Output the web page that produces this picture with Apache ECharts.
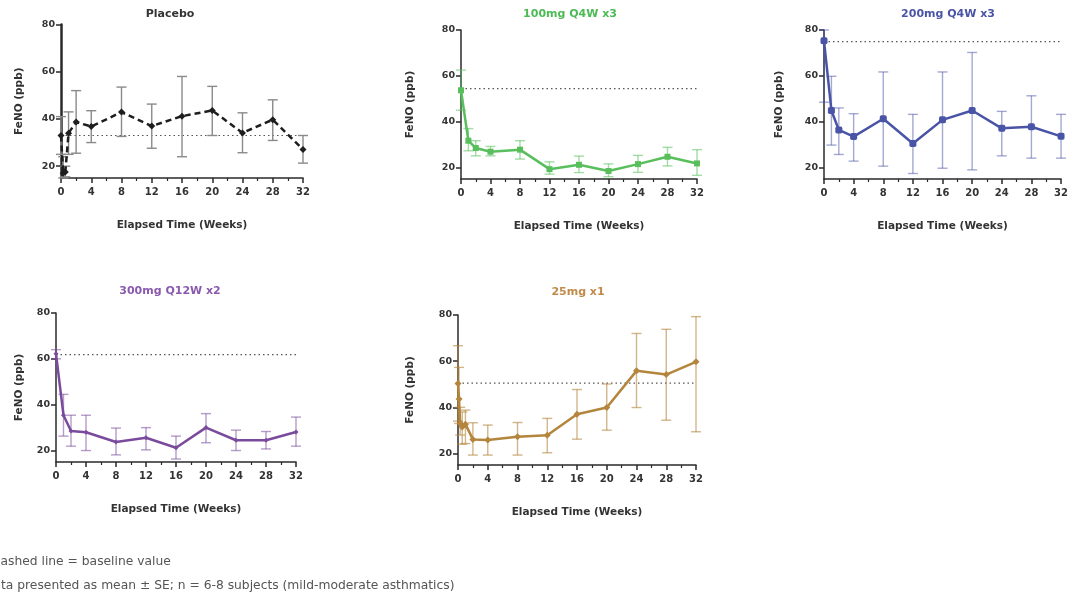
<!DOCTYPE html>
<html>
<head>
<meta charset="utf-8">
<script src="https://cdn.jsdelivr.net/npm/echarts@6/dist/echarts.min.js"></script>
<style>
  html, body { margin: 0; padding: 0; background: #ffffff; }
  #chart { width: 1071px; height: 600px; }
</style>
</head>
<body>
<div id="chart"></div>
<script>
// ---------- DATA ----------
const xTickLabels = [0, 4, 8, 12, 16, 20, 24, 28, 32];
const yTickLabels = [20, 40, 60, 80];

const placeboWeeks = [0, 0.29, 0.57, 1, 2, 4, 8, 12, 16, 20, 24, 28, 32];
const placeboMean  = [33, 17, 17.5, 34, 38.7, 36.8, 42.9, 37, 41.2, 43.6, 34.1, 39.7, 27.1];
const placeboLow   = [25, 15, 15.5, 25, 25.5, 30, 32.6, 27.6, 24, 33, 25.7, 30.9, 21.3];
const placeboHigh  = [41, 24, 20, 43, 52, 43.5, 53.5, 46.3, 58, 53.8, 42.6, 48.1, 33];
const placeboBaseline = 33;

const q4w100Weeks = [0, 1, 2, 4, 8, 12, 16, 20, 24, 28, 32];
const q4w100Mean  = [53.7, 31.7, 28.5, 26.9, 27.8, 19.3, 21.2, 18.5, 21.5, 24.7, 21.8];
const q4w100Low   = [45, 27.3, 25.1, 25.1, 23.7, 17.1, 17.8, 16, 17.9, 20.7, 16.6];
const q4w100High  = [62.5, 37, 31.7, 29.2, 31.7, 22.5, 25, 21.6, 25.3, 28.8, 27.8];
const q4w100Baseline = 54.4;

const q4w200Weeks = [0, 1, 2, 4, 8, 12, 16, 20, 24, 28, 32];
const q4w200Mean  = [75.3, 44.9, 36.4, 33.5, 41.3, 30.5, 40.8, 44.9, 37.1, 37.8, 33.6];
const q4w200Low   = [48.5, 29.8, 25.7, 22.8, 20.6, 17.4, 19.7, 19, 25.1, 24.1, 24.1];
const q4w200High  = [80, 59.8, 46, 43.5, 61.7, 43.2, 61.7, 70.2, 44.5, 51.3, 43.2];
const q4w200Baseline = 74.9;

const q12w300Weeks = [0, 1, 2, 4, 8, 12, 16, 20, 24, 28, 32];
const q12w300Mean  = [62.2, 35.4, 28.5, 28, 23.7, 25.6, 21.2, 30, 24.5, 24.5, 28.1];
const q12w300Low   = [60, 26.3, 21.9, 20, 18.1, 20.3, 16.3, 23.4, 20, 20.7, 21.9];
const q12w300High  = [64, 44.5, 35.4, 35.4, 29.8, 30, 26.3, 36.1, 28.9, 28.3, 34.6];
const q12w300Baseline = 61.8;

const x1Weeks = [0, 0.14, 0.29, 0.57, 1, 2, 4, 8, 12, 16, 20, 24, 28, 32];
const x1Mean  = [50.3, 43.6, 33, 31.5, 32.7, 26.1, 25.8, 27.2, 27.9, 37, 39.9, 55.8, 54.2, 59.7];
const x1Low   = [34, 33, 28, 24, 24.3, 19.3, 19.3, 19.3, 20.3, 26.2, 30.1, 39.9, 34.4, 29.4];
const x1High  = [66.7, 57.3, 40, 38, 38.8, 33.3, 32.3, 33.4, 35.2, 47.7, 50.1, 72, 73.8, 79.3];
const x1Baseline = 50.5;

const panelTitles = ['Placebo', '100mg Q4W x3', '200mg Q4W x3', '300mg Q12W x2', '25mg x1'];
const xAxisTitle = 'Elapsed Time (Weeks)';
const yAxisTitle = 'FeNO (ppb)';
const footnotes = ['Dashed line = baseline value',
  'Data presented as mean \u00b1 SE; n = 6-8 subjects (mild-moderate asthmatics)'];

// ---------- LAYOUT / STYLE ----------
const panels = [
  { weeks: placeboWeeks, mean: placeboMean, low: placeboLow, high: placeboHigh, base: placeboBaseline,
    color: '#1e1e1e', bar: '#8a8a8a', titleColor: '#333333', symbol: 'diamond', symbolSize: 7, dashed: true,
    grid: { left: 61, top: 24.5, width: 242, height: 153.5 }, yGap: 36, titleX: 170, titleY: 14, axisW: 2.5 },
  { weeks: q4w100Weeks, mean: q4w100Mean, low: q4w100Low, high: q4w100High, base: q4w100Baseline,
    color: '#58bf5c', bar: 'rgba(88,191,92,0.55)', titleColor: '#4cba55', symbol: 'rect', symbolSize: 6,
    grid: { left: 461, top: 30, width: 236, height: 149 }, yGap: 45, titleX: 570, titleY: 14, axisW: 1.5 },
  { weeks: q4w200Weeks, mean: q4w200Mean, low: q4w200Low, high: q4w200High, base: q4w200Baseline,
    color: '#4a54a6', bar: 'rgba(74,84,166,0.5)', titleColor: '#4a54a6', symbol: 'roundRect', symbolSize: 7,
    grid: { left: 824, top: 30, width: 238, height: 149 }, yGap: 39, titleX: 948, titleY: 14, axisW: 1.5 },
  { weeks: q12w300Weeks, mean: q12w300Mean, low: q12w300Low, high: q12w300High, base: q12w300Baseline,
    color: '#7a4a9c', bar: 'rgba(122,74,156,0.55)', titleColor: '#8a5aae', symbol: 'diamond', symbolSize: 5,
    grid: { left: 56, top: 313, width: 240, height: 149 }, yGap: 31, titleX: 170, titleY: 291, axisW: 1.5 },
  { weeks: x1Weeks, mean: x1Mean, low: x1Low, high: x1High, base: x1Baseline,
    color: '#b4853c', bar: 'rgba(180,133,60,0.6)', titleColor: '#c08a48', symbol: 'diamond', symbolSize: 7,
    grid: { left: 458, top: 315, width: 238, height: 150 }, yGap: 42, titleX: 578, titleY: 292, axisW: 1.5 }
];

const FONT = '"DejaVu Sans", "Noto Sans", sans-serif';
const grids = [], xAxes = [], yAxes = [], series = [], graphics = [];

panels.forEach((p, i) => {
  grids.push(Object.assign({ containLabel: false }, p.grid));
  xAxes.push({
    type: 'value', gridIndex: i, min: 0, max: 32, interval: 4,
    name: xAxisTitle, nameLocation: 'middle', nameGap: 42,
    nameTextStyle: { fontFamily: FONT, fontWeight: 'bold', fontSize: 10.5, color: '#333' },
    axisLine: { show: true, onZero: false, lineStyle: { color: '#2a2a2a', width: 1.5 } },
    axisTick: { show: true, length: 5, lineStyle: { color: '#2a2a2a', width: 1.5 } },
    minorTick: { show: true, splitNumber: 2, length: 3, lineStyle: { color: '#2a2a2a', width: 1.2 } },
    axisLabel: { fontFamily: FONT, fontWeight: 'bold', fontSize: 10, color: '#333', margin: 9,
                 customValues: xTickLabels },
    splitLine: { show: false }
  });
  yAxes.push({
    type: 'value', gridIndex: i, min: 15, max: 80,
    name: yAxisTitle, nameLocation: 'middle', nameGap: p.yGap, nameRotate: 90,
    nameTextStyle: { fontFamily: FONT, fontWeight: 'bold', fontSize: 10.5, color: '#333' },
    axisLine: { show: true, onZero: false, lineStyle: { color: '#2a2a2a', width: p.axisW } },
    axisTick: { show: true, length: 5, lineStyle: { color: '#2a2a2a', width: 1.5 }, customValues: yTickLabels },
    axisLabel: { fontFamily: FONT, fontWeight: 'bold', fontSize: 9.5, color: '#333', margin: 6,
                 customValues: yTickLabels },
    splitLine: { show: false }
  });

  // baseline (dotted)
  series.push({
    type: 'line', xAxisIndex: i, yAxisIndex: i, silent: true, symbol: 'none', z: 1,
    data: [[0, p.base], [32, p.base]],
    lineStyle: { color: '#555', width: 1.2, type: [1.5, 3] }
  });

  // error bars
  const barData = p.weeks.map((w, k) => [w, p.low[k], p.high[k]]);
  const barColor = p.bar;
  series.push({
    type: 'custom', xAxisIndex: i, yAxisIndex: i, z: 2, silent: true,
    encode: { x: 0, y: [1, 2] },
    data: barData,
    renderItem: function (params, api) {
      const x = api.value(0), lo = api.value(1), hi = api.value(2);
      const a = api.coord([x, lo]), b = api.coord([x, hi]);
      const w = 5;
      const st = { stroke: barColor, lineWidth: 1.4 };
      return { type: 'group', children: [
        { type: 'line', shape: { x1: a[0], y1: a[1], x2: b[0], y2: b[1] }, style: st },
        { type: 'line', shape: { x1: a[0] - w, y1: a[1], x2: a[0] + w, y2: a[1] }, style: st },
        { type: 'line', shape: { x1: b[0] - w, y1: b[1], x2: b[0] + w, y2: b[1] }, style: st }
      ]};
    }
  });

  // mean line
  series.push({
    type: 'line', xAxisIndex: i, yAxisIndex: i, z: 3,
    data: p.weeks.map((w, k) => [w, p.mean[k]]),
    symbol: p.symbol, symbolSize: p.symbolSize, showSymbol: true,
    itemStyle: { color: p.color },
    lineStyle: { color: p.color, width: 2.5, type: p.dashed ? [6, 4] : 'solid' }
  });

  graphics.push({
    type: 'text', x: p.titleX, y: p.titleY,
    style: { text: panelTitles[i], fill: p.titleColor, font: 'bold 11px ' + FONT,
             textAlign: 'center', textVerticalAlign: 'middle' }
  });
});

graphics.push({ type: 'text', x: -9, y: 562,
  style: { text: footnotes[0], fill: '#555', font: '12.3px ' + FONT, textVerticalAlign: 'middle' } });
graphics.push({ type: 'text', x: -16, y: 586,
  style: { text: footnotes[1], fill: '#555', font: '12.3px ' + FONT, textVerticalAlign: 'middle' } });

const chart = echarts.init(document.getElementById('chart'), null, { renderer: 'canvas' });
chart.setOption({
  animation: false,
  backgroundColor: '#ffffff',
  grid: grids, xAxis: xAxes, yAxis: yAxes, series: series, graphic: graphics
});
</script>
</body>
</html>
